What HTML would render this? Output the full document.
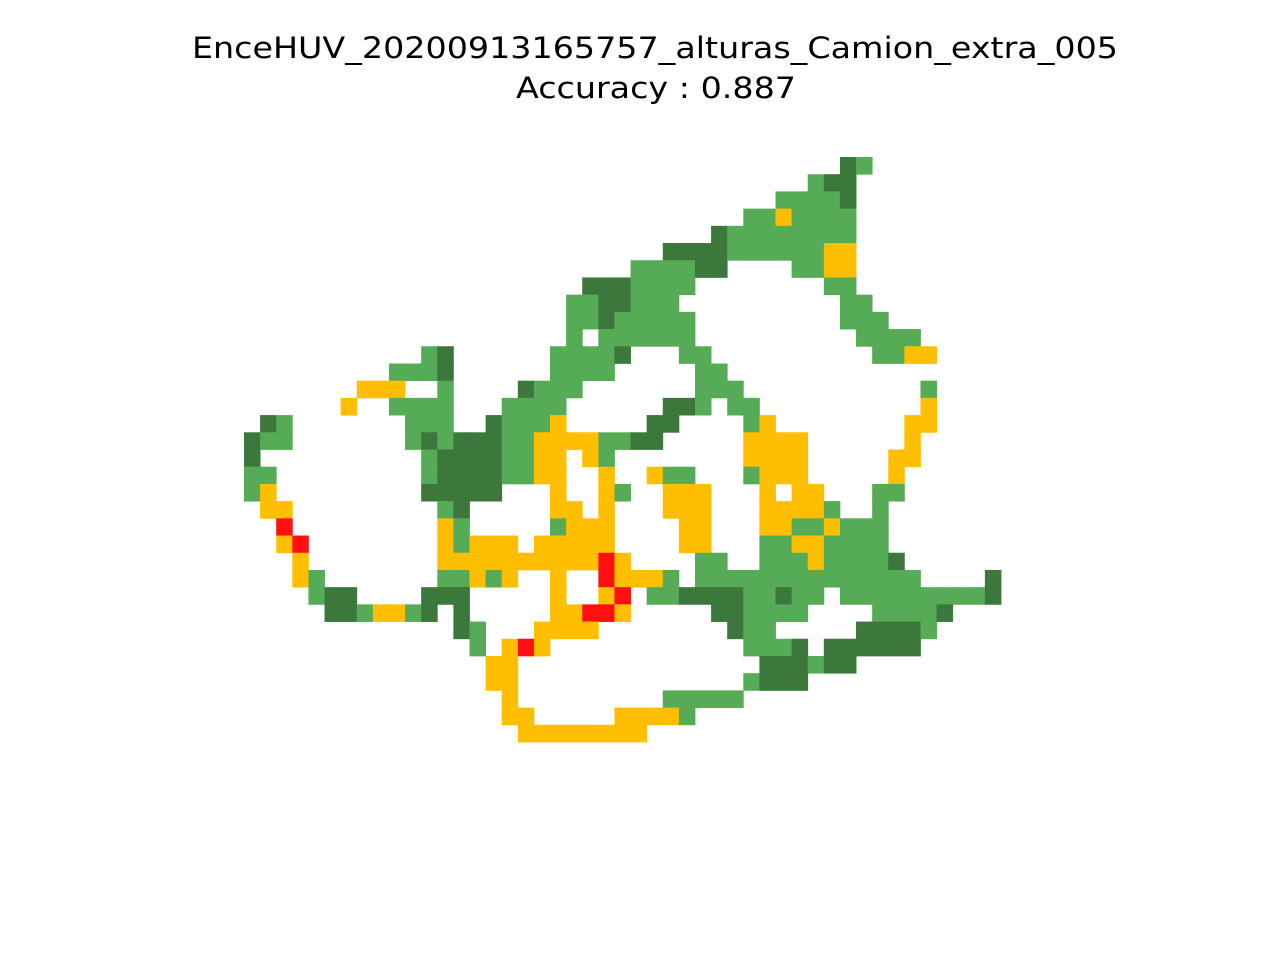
<!DOCTYPE html>
<html><head><meta charset="utf-8">
<style>html,body{margin:0;padding:0;background:#fff;}svg{display:block;}</style>
</head><body>
<svg id="chart" width="1280" height="960" viewBox="0 0 1280 960" xmlns="http://www.w3.org/2000/svg">
<rect width="1280" height="960" fill="#fff"/>
<text x="655" y="58" text-anchor="middle" font-family="DejaVu Sans, Liberation Sans, sans-serif" font-size="29" textLength="926" lengthAdjust="spacingAndGlyphs" fill="#000">EnceHUV_20200913165757_alturas_Camion_extra_005</text>
<text x="656" y="98" text-anchor="middle" font-family="DejaVu Sans, Liberation Sans, sans-serif" font-size="29" textLength="280" lengthAdjust="spacingAndGlyphs" fill="#000">Accuracy : 0.887</text>
<g id="cells"></g>
</svg>
<script>
// Grid data: each row lists runs "start-end:class" (column indices)
const nCols = 47;
const nRows = 34;
const classColors = {g:"#56ab56", d:"#3c773c", y:"#ffbf00", r:"#ff1010"};
const classNames = {g:"correct", d:"correct-dark", y:"partial", r:"error"};
const rowRuns = [
"37:d 38:g",
"35:g 36-37:d",
"33-36:g 37:d",
"31-32:g 33:y 34-37:g",
"29:d 30-37:g",
"26-29:d 30-35:g 36-37:y",
"24-27:g 28-29:d 34-35:g 36-37:y",
"21-23:d 24-27:g 36-37:g",
"20-21:g 22-23:d 24-26:g 37-38:g",
"20-21:g 22:d 23-27:g 37-39:g",
"20:g 22-27:g 38-41:g",
"11:g 12:d 19-22:g 23:d 27-28:g 39-40:g 41-42:y",
"9-11:g 12:d 19-22:g 28-29:g",
"7-9:y 12:g 17:d 18-20:g 28-30:g 42:g",
"6:y 9-12:g 16-19:g 26-27:d 28:g 30-31:g 42:y",
"1:d 2:g 10-12:g 15:d 16-18:g 19:y 25-26:d 31:g 32:y 41-42:y",
"0:d 1-2:g 10:g 11:d 12:g 13-15:d 16-17:g 18-21:y 22-23:g 24-25:d 31-34:y 41:y",
"0:d 11:g 12-15:d 16-17:g 18-19:y 21:y 22:g 31-34:y 40-41:y",
"0-1:g 11:g 12-15:d 16-17:g 18-19:y 22:y 25:y 26-27:g 31:g 32-34:y 40:y",
"0:g 1:y 11-15:d 19:y 22:y 23:g 26-28:y 32:y 34-35:y 39-40:g",
"1-2:y 12:g 13:d 19-20:y 22:y 26-28:y 32-35:y 36:g 39:g",
"2:r 12:y 13:g 19:g 20-22:y 27-28:y 32-33:y 34-35:g 36:y 37-39:g",
"2:y 3:r 12:y 13:g 14-16:y 18-22:y 27-28:y 32-33:g 34-35:y 36-39:g",
"3:y 12-21:y 22:r 23:y 28-29:g 32-34:g 35:y 36-39:g 40:d",
"3:y 4:g 12-13:g 14:y 15:g 16:y 19:y 22:r 23-25:y 26:g 28-41:g 46:d",
"4:g 5-6:d 11-13:d 19:y 22:y 23:r 25-26:g 27-30:d 31-32:g 33:d 34-35:g 37-45:g 46:d",
"5-6:d 7:g 8-9:y 10:g 11:d 13:d 19-20:y 21-22:r 23:y 29-30:d 31-34:g 39-42:g 43:d",
"13:d 14:g 18-21:y 30:d 31-32:g 38-41:d 42:g",
"14:g 16:y 17:r 18:y 31-33:g 34:d 36-41:d",
"15-16:y 32-34:d 35:g 36-37:d",
"15-16:y 31:g 32-34:d",
"16:y 26-30:g",
"16-17:y 23-26:y 27:g",
"17-24:y"
];

const x0 = 244, x1 = 1001, y0 = 157, y1 = 742;
function xScale(c){ return x0 + (x1 - x0) * c / nCols; }
function yScale(r){ return y0 + (y1 - y0) * r / nRows; }

const g = document.getElementById('cells');
const NS = "http://www.w3.org/2000/svg";
rowRuns.forEach(function(spec, r){
  spec.split(' ').forEach(function(tok){
    if(!tok) return;
    const parts = tok.split(':');
    const cls = parts[1];
    const se = parts[0].split('-');
    const a = parseInt(se[0], 10);
    const b = se.length > 1 ? parseInt(se[1], 10) : a;
    for(let c = a; c <= b; c++){
      const rect = document.createElementNS(NS, 'rect');
      const xa = xScale(c), xb = xScale(c + 1), ya = yScale(r), yb = yScale(r + 1);
      rect.setAttribute('x', xa.toFixed(2));
      rect.setAttribute('y', ya.toFixed(2));
      rect.setAttribute('width', (xb - xa + 0.4).toFixed(2));
      rect.setAttribute('height', (yb - ya + 0.4).toFixed(2));
      rect.setAttribute('fill', classColors[cls]);
      
      
      g.appendChild(rect);
    }
  });
});
</script>
</body></html>
